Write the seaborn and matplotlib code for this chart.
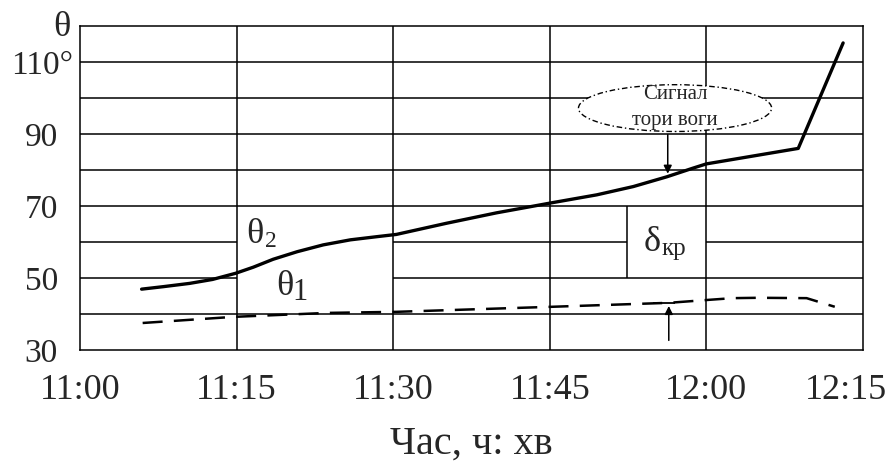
import matplotlib
matplotlib.use("Agg")
import matplotlib.pyplot as plt
from matplotlib.patches import Ellipse
from matplotlib.transforms import ScaledTranslation
import pandas as pd
import seaborn as sns

# minutes after 11:00 and temperature
theta2_min = [5.9, 8.0, 10.5, 12.7, 14.9, 16.6, 18.5, 20.8, 23.3, 25.9, 28.5, 30.3,
              35.1, 39.9, 45.2, 49.5, 53.0, 56.2, 58.7, 60.0, 68.8, 73.1]
theta2_val = [46.9, 47.6, 48.5, 49.6, 51.3, 53.0, 55.2, 57.3, 59.2, 60.6, 61.5, 62.1,
              65.2, 68.1, 70.9, 73.1, 75.4, 78.1, 80.5, 81.7, 86.0, 115.3]
theta1_min = [6.0, 14.7, 23.7, 30.3, 45.2, 56.4, 60.1, 62.5, 65.0, 69.6, 72.3]
theta1_val = [37.5, 39.2, 40.3, 40.6, 42.0, 43.1, 43.9, 44.4, 44.5, 44.4, 42.0]

tick_minutes = [0, 15, 30, 45, 60, 75]
tick_labels = ['11:00', '11:15', '11:30', '11:45', '12:00', '12:15']
ytick_values = [30, 50, 70, 90, 110]
ytick_labels = ['30', '50', '70', '90', '110°']

sns.set_style("white")
plt.rcParams['font.family'] = ['Liberation Serif', 'DejaVu Serif']

df2 = pd.DataFrame({'t': theta2_min, 'v': theta2_val})
df1 = pd.DataFrame({'t': theta1_min, 'v': theta1_val})

fig = plt.figure(figsize=(8.88, 4.63), dpi=100)
ax = fig.add_axes([0.0901, 0.2441, 0.8817, 0.6997])

# grid, with the gaps left for the labels
lw_grid = 1.1
ax.hlines([40, 70, 80, 90, 100, 110], 0, 75, color='black', lw=lw_grid, zorder=1)
ax.hlines([60, 60, 60], [0, 30, 60], [15, 52.4, 75], color='black', lw=lw_grid, zorder=1)
ax.hlines([50, 50], [0, 30], [15, 75], color='black', lw=lw_grid, zorder=1)
ax.vlines([15, 30, 45, 60], 30, 120, color='black', lw=lw_grid, zorder=1)
ax.vlines(52.4, 50, 70, color='black', lw=lw_grid, zorder=1)

sns.lineplot(data=df2, x='t', y='v', color='black', lw=2.4, estimator=None, ax=ax, zorder=3)
sns.lineplot(data=df1, x='t', y='v', color='black', lw=1.8, estimator=None, ax=ax, zorder=3)
ax.lines[-1].set_dashes((8, 4.5))

ax.set_xlim(0, 75)
ax.set_ylim(30, 120)
ax.set_xticks(tick_minutes)
ax.set_xticklabels(tick_labels, fontsize=26)
ax.set_yticks(ytick_values)
ax.set_yticklabels(ytick_labels, fontsize=24)
ax.tick_params(axis='x', direction='out', length=6, width=1.1, color='black', pad=11)
ax.tick_params(axis='y', length=0, pad=16)
lab = ax.yaxis.get_major_ticks()[-1].label1
lab.set_transform(lab.get_transform() + ScaledTranslation(0.15, 0, fig.dpi_scale_trans))
lab = ax.xaxis.get_major_ticks()[-1].label1
lab.set_transform(lab.get_transform() + ScaledTranslation(-0.17, 0, fig.dpi_scale_trans))

for s in ax.spines.values():
    s.set_color('black')
    s.set_linewidth(1.1)

ax.set_xlabel('Час, ч: хв', fontsize=29, labelpad=14)
ax.set_ylabel('')
ax.text(-0.023, 0.995, 'θ', transform=ax.transAxes, fontsize=26,
        ha='center', va='center', clip_on=False)

# curve labels
ax.text(16.8, 62.2, 'θ', fontsize=26, ha='center', va='center')
ax.text(18.3, 60.2, '2', fontsize=17, ha='center', va='center')
ax.text(19.6, 47.5, 'θ', fontsize=26, ha='center', va='center')
ax.text(21.1, 45.9, '1', fontsize=22, ha='center', va='center')
ax.text(54.8, 59.8, 'δ', fontsize=26, ha='center', va='center')
ax.text(56.9, 58.0, 'кр', fontsize=18, ha='center', va='center')

# alarm signal callout
ax.add_patch(Ellipse((57.0, 97.2), 18.5, 13, facecolor='white', edgecolor='black',
                     linestyle=(0, (1, 2, 4, 2)), lw=1.0, zorder=4))
ax.text(57.0, 100.9, 'Сигнал', fontsize=15, ha='center', va='center', zorder=5)
ax.text(57.0, 93.8, 'тори воги', fontsize=15, ha='center', va='center', zorder=5)
ax.annotate('', xy=(56.3, 78.2), xytext=(56.3, 90.6),
            arrowprops=dict(arrowstyle='-|>', color='black', lw=1.1, mutation_scale=12), zorder=5)

# critical difference arrow
ax.annotate('', xy=(56.4, 43.0), xytext=(56.4, 31.9),
            arrowprops=dict(arrowstyle='-|>', color='black', lw=1.1, mutation_scale=12), zorder=5)
ax.hlines(43.1, 54.9, 57.0, color='black', lw=1.3, zorder=5)

fig.savefig('out.png', dpi=100)
